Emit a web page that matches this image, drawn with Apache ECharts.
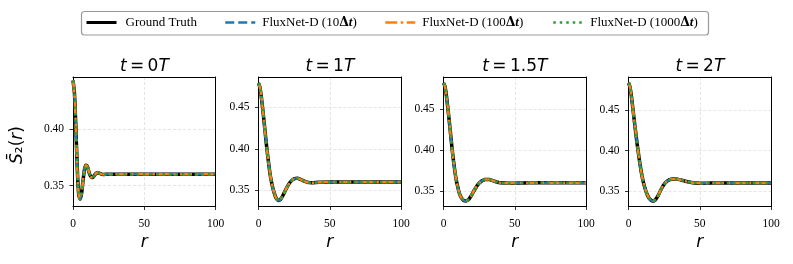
<!DOCTYPE html>
<html><head><meta charset="utf-8">
<script src="https://cdn.jsdelivr.net/npm/echarts@6/dist/echarts.min.js"></script>
<style>html,body{margin:0;padding:0;background:#fff}#c{width:793px;height:264px}</style>
</head><body><div id="c"></div>
<script>
// ---- data ----
const panelTimes = ['0', '1', '1.5', '2'];
const seriesNames = ['Ground Truth', 'FluxNet-D (10Δt)', 'FluxNet-D (100Δt)', 'FluxNet-D (1000Δt)'];
const rValues = [0,1,2,3,4,5,6,7,8,9,10,11,12,13,14,15,16,17,18,19,20,21,22,23,24,25,26,27,28,29,30,31,32,33,34,35,36,37,38,39,40,45,50,55,60,65,70,75,80,85,90,95,100];
const s2_t0 = [0.443,0.432,0.402,0.365,0.342,0.338,0.343,0.354,0.364,0.368,0.367,0.363,0.359,0.3572,0.3574,0.3590,0.3606,0.3613,0.3612,0.3607,0.3602,0.3599,0.3599,0.3600,
  0.36,0.36,0.36,0.36,0.36,0.36,0.36,0.36,0.36,0.36,0.36,0.36,0.36,0.36,0.36,0.36,0.36,
  0.36,0.36,0.36,0.36,0.36,0.36,0.36,0.36,0.36,0.36,0.36,0.36];
const s2_t1 = [0.479,0.474,0.462,0.447,0.431,0.414,0.398,0.384,0.371,0.361,0.353,0.347,0.342,0.339,0.3378,0.3385,0.3405,0.3435,0.3470,0.3505,0.3538,0.3568,0.3594,0.3614,0.3629,0.3639,0.3644,0.3645,0.3642,0.3636,0.3628,0.3620,0.3612,0.3605,0.3599,0.3595,0.3593,0.3592,0.3592,0.3593,0.3594,
  0.3598,0.36,0.36,0.36,0.36,0.36,0.36,0.36,0.36,0.36,0.36,0.36];
const s2_t15 = [0.482,0.478,0.467,0.452,0.436,0.419,0.402,0.387,0.374,0.363,0.355,0.348,0.3435,0.3405,0.3387,0.3380,0.3379,0.3388,0.3405,0.3430,0.3460,0.3492,0.3522,0.3550,0.3575,0.3596,0.3612,0.3625,0.3634,0.3640,0.3642,0.3642,0.3640,0.3636,0.3630,0.3624,0.3618,0.3612,0.3607,0.3603,0.3600,
  0.3596,0.3596,0.3598,0.36,0.36,0.36,0.36,0.36,0.36,0.36,0.36,0.36];
const s2_t2 = [0.484,0.479,0.468,0.453,0.438,0.423,0.409,0.396,0.384,0.373,0.364,0.357,0.351,0.346,0.3425,0.3398,0.3382,0.3376,0.3380,0.3395,0.3420,0.3452,0.3490,0.3525,0.3557,0.3584,0.3605,0.3620,0.3632,0.3640,0.3645,0.3648,0.3649,0.3649,0.3647,0.3644,0.3640,0.3635,0.3630,0.3625,0.3620,
  0.3603,0.3597,0.3597,0.3599,0.36,0.36,0.36,0.36,0.36,0.36,0.36,0.36];
const panelData = [s2_t0, s2_t1, s2_t15, s2_t2];
const yTicks_t0 = [0.35, 0.40];
const yTicks_rest = [0.35, 0.40, 0.45];
const panelYTicks = [yTicks_t0, yTicks_rest, yTicks_rest, yTicks_rest];
const xTickInterval = 50;

// ---- layout / style ----
const yRanges = [[0.3315, 0.4461], [0.3306, 0.4863], [0.3311, 0.4893], [0.3308, 0.4911]];
const gridLefts = [73, 258.5, 443.5, 628.5];
const gridW = 142.7, gridTop = 77, gridH = 129.5;
const colors = ['#000000', '#1f77b4', '#ff7f0e', '#2ca02c'];
const widths = [3.5, 2.5, 2.5, 2.5];
const dashes = ['solid', [9, 4], [12, 3.5, 2.5, 3.5], [2.5, 4]];
const serif = 'Liberation Serif';
const sans = 'DejaVu Sans';
const spine = {show: true, onZero: false, lineStyle: {color: '#000', width: 1}};
const gridLine = {show: true, lineStyle: {color: '#dedede', width: 0.8, type: [3, 2]}};

const grids = [], xAxes = [], yAxes = [], series = [], titles = [], graphics = [];
panelData.forEach((vals, i) => {
  grids.push({left: gridLefts[i], top: gridTop, width: gridW, height: gridH, show: false, containLabel: false});
  // main axes
  xAxes.push({gridIndex: i, type: 'value', position: 'bottom', min: 0, max: 100, interval: xTickInterval,
    axisLine: spine,
    axisTick: {show: true, length: 3.5, lineStyle: {color: '#000', width: 0.8}},
    axisLabel: {color: '#000', fontFamily: serif, fontSize: 11.5, margin: 11},
    splitLine: gridLine, z: 1});
  yAxes.push({gridIndex: i, type: 'value', position: 'left', min: yRanges[i][0], max: yRanges[i][1],
    axisLine: spine,
    axisTick: {show: true, length: 3.5, customValues: panelYTicks[i], lineStyle: {color: '#000', width: 0.8}},
    axisLabel: {color: '#000', fontFamily: serif, fontSize: 11.5, margin: 9, customValues: panelYTicks[i],
      formatter: v => Number(v).toFixed(2)},
    splitLine: gridLine, z: 1});
  // frame (top / right spines)
  xAxes.push({gridIndex: i, type: 'value', position: 'top', min: 0, max: 100,
    axisLine: spine, axisTick: {show: false}, axisLabel: {show: false}, splitLine: {show: false}, z: 10});
  yAxes.push({gridIndex: i, type: 'value', position: 'right', min: yRanges[i][0], max: yRanges[i][1],
    axisLine: spine, axisTick: {show: false}, axisLabel: {show: false}, splitLine: {show: false}, z: 10});
  seriesNames.forEach((nm, k) => {
    series.push({name: nm, type: 'line', xAxisIndex: 2 * i, yAxisIndex: 2 * i,
      data: rValues.map((r, j) => [r, vals[j]]),
      symbol: 'none', showSymbol: false, smooth: 0.25, z: 2 + k, clip: true,
      itemStyle: {color: colors[k]},
      lineStyle: {color: colors[k], width: widths[k], type: dashes[k], cap: 'butt'}});
  });
  titles.push({text: '{i|t}\u2009=\u2009' + panelTimes[i] + '{i|T}', left: gridLefts[i] + gridW / 2, top: 58,
    textAlign: 'center', padding: 0,
    textStyle: {fontFamily: sans, fontSize: 17, fontWeight: 'normal', color: '#000',
      rich: {i: {fontFamily: sans, fontSize: 17, fontStyle: 'italic', color: '#000'}}}});
  graphics.push({type: 'text', x: gridLefts[i] + gridW / 2, y: 243,
    style: {text: 'r', font: 'italic 17px "DejaVu Sans"', fill: '#000', textAlign: 'center', textVerticalAlign: 'middle'}});
});

graphics.push({type: 'text', x: 18, y: 145, rotation: Math.PI / 2,
  style: {text: '{i|S\u0304}{n|\u2082(}{i|r}{n|)}', fill: '#000', textAlign: 'center', textVerticalAlign: 'middle',
    rich: {i: {fontFamily: sans, fontSize: 17, fontStyle: 'italic'}, n: {fontFamily: sans, fontSize: 17}}}});
graphics.push({type: 'rect', shape: {x: 81.5, y: 11.5, width: 627, height: 23.5, r: 3},
  style: {fill: 'rgba(255,255,255,0.8)', stroke: '#9a9a9a', lineWidth: 1.2}, z: 0});

const legendLefts = [85, 224, 384, 552];
const legendTextPad = [4, 2, 2, 2];
const legends = seriesNames.map((nm, k) => ({
  data: [nm], left: legendLefts[k], top: 16, itemWidth: 30, itemHeight: 14, padding: 0, selectedMode: false,
  lineStyle: {width: k === 0 ? 3 : 2.5},
  itemStyle: {opacity: 0},
  formatter: n => n.replace('Δt', '{d|Δ}{t|t}'),
  textStyle: {fontFamily: serif, fontSize: 13, color: '#000', padding: [0, 0, 0, legendTextPad[k]],
    rich: {d: {fontFamily: 'DejaVu Serif', fontSize: 12.5, fontWeight: 'bold'},
           t: {fontFamily: serif, fontSize: 13, fontWeight: 'bold', fontStyle: 'italic'}}}
}));

const chart = echarts.init(document.getElementById('c'), null, {renderer: 'canvas'});
chart.setOption({
  animation: false, backgroundColor: '#fff',
  title: titles, legend: legends, grid: grids, xAxis: xAxes, yAxis: yAxes, series: series, graphic: graphics
});
</script></body></html>
